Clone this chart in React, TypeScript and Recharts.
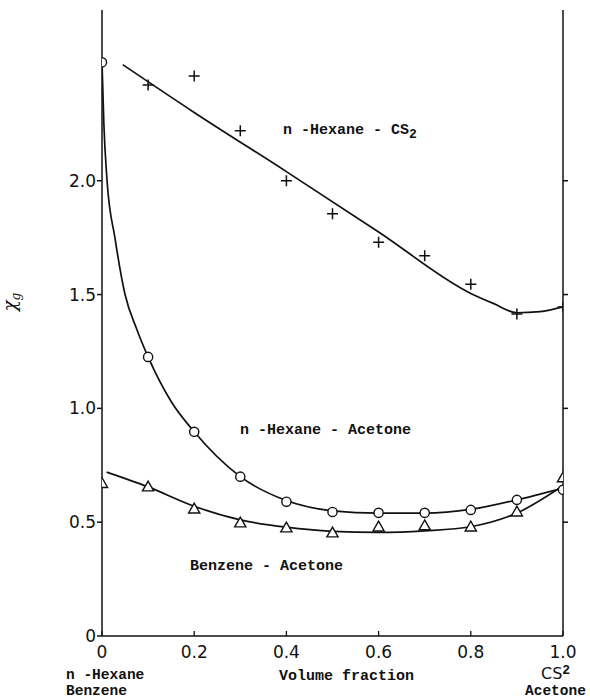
import { ComposedChart, Line, Scatter, XAxis, YAxis } from 'recharts';

// measured points (volume fraction vs chi_g)
const HEX_CS2_X = [0.1, 0.2, 0.3, 0.4, 0.5, 0.6, 0.7, 0.8, 0.9, 1.0];
const HEX_CS2_Y = [2.42, 2.46, 2.22, 2.0, 1.855, 1.73, 1.67, 1.545, 1.415, 1.445];

const ACETONE_X = [0, 0.1, 0.2, 0.3, 0.4, 0.5, 0.6, 0.7, 0.8, 0.9, 1.0];
const HEX_ACE_Y = [2.52, 1.226, 0.897, 0.7, 0.59, 0.545, 0.541, 0.541, 0.554, 0.598, 0.642];
const BEN_ACE_Y = [0.67, 0.655, 0.558, 0.497, 0.475, 0.453, 0.479, 0.484, 0.479, 0.545, 0.695];

// hand-drawn curves
const CS2_FIT_X = [0.045, 0.2, 0.4, 0.6, 0.8, 0.85, 0.9, 0.95, 1.0];
const CS2_FIT_Y = [2.51, 2.3, 2.04, 1.775, 1.505, 1.46, 1.42, 1.425, 1.446];
const HEX_ACE_FIT_X = [0, 0.004, 0.011, 0.028, 0.05, 0.075, 0.1, 0.15, 0.2, 0.3, 0.4, 0.5, 0.6, 0.7, 0.8, 0.9, 1.0];
const HEX_ACE_FIT_Y = [2.52, 2.25, 2.0, 1.75, 1.5, 1.35, 1.226, 1.03, 0.897, 0.7, 0.595, 0.55, 0.54, 0.54, 0.556, 0.598, 0.65];
const BEN_ACE_FIT_X = [0.01, 0.1, 0.2, 0.3, 0.4, 0.5, 0.6, 0.7, 0.8, 0.9, 1.0];
const BEN_ACE_FIT_Y = [0.72, 0.655, 0.57, 0.51, 0.478, 0.46, 0.455, 0.462, 0.48, 0.54, 0.66];

const X_TICKS = [0, 0.2, 0.4, 0.6, 0.8, 1.0];
const Y_TICKS = [0, 0.5, 1.0, 1.5, 2.0];
const RIGHT_TICKS = [0.5, 1.0, 1.5, 2.0];

const zip = (xs: number[], ys: number[]) => xs.map((x, i) => ({ x, y: ys[i] }));

const INK = '#111';
const NUM_FONT = '"DejaVu Sans", sans-serif';
const TYPE_FONT = '"Liberation Mono", monospace';

const Plus = ({ cx, cy }: any) => (
  <path d={`M${cx - 5.5},${cy}H${cx + 5.5}M${cx},${cy - 5.5}V${cy + 5.5}`} stroke={INK} strokeWidth={1.5} />
);
const Circle = ({ cx, cy }: any) => (
  <circle cx={cx} cy={cy} r={4.6} fill="#fff" stroke={INK} strokeWidth={1.4} />
);
const Triangle = ({ cx, cy }: any) => (
  <path
    d={`M${cx},${cy - 5.8}L${cx - 5.6},${cy + 4}L${cx + 5.6},${cy + 4}Z`}
    fill="#fff"
    stroke={INK}
    strokeWidth={1.4}
  />
);

const XTick = ({ x, y, payload }: any) => {
  const v = payload.value;
  const label = v === 0 ? '0' : v.toFixed(1);
  return (
    <g>
      <line x1={x} x2={x} y1={636} y2={631} stroke={INK} strokeWidth={1.3} />
      <text x={x} y={y + 22} textAnchor="middle" fontFamily={NUM_FONT} fontSize={17} fill={INK}>
        {label}
      </text>
      {v === 0 && (
        <text fontFamily={TYPE_FONT} fontWeight="bold" fontSize={14.5} fill={INK}>
          <tspan x={x - 36} y={y + 43}>n -Hexane</tspan>
          <tspan x={x - 36} y={y + 59}>Benzene</tspan>
        </text>
      )}
      {v === 1 && (
        <g>
          <text x={x - 22} y={y + 43} fontFamily={NUM_FONT} fontSize={16} fill={INK}>
            CS
            <tspan dy={-5} fontFamily={TYPE_FONT} fontWeight="bold" fontSize={13}>2</tspan>
          </text>
          <text x={x - 38} y={y + 59} fontFamily={TYPE_FONT} fontWeight="bold" fontSize={14.5} fill={INK}>
            Acetone
          </text>
        </g>
      )}
    </g>
  );
};

export default function App() {
  return (
    <div style={{ position: 'absolute', left: 0, top: 0, width: 590, height: 700, background: '#fff' }}>
      <ComposedChart width={590} height={700} margin={{ top: 10, right: 17, bottom: 34, left: 42 }}>
        <XAxis
          dataKey="x"
          type="number"
          domain={[0, 1]}
          allowDataOverflow
          ticks={X_TICKS}
          tickLine={false}
          tickSize={0}
          tickMargin={0}
          height={30}
          stroke={INK}
          strokeWidth={1.5}
          tick={<XTick />}
          label={{
            value: 'Volume fraction',
            position: 'bottom',
            content: ({ viewBox }: any) => (
              <text
                x={viewBox.x + viewBox.width / 2 + 14}
                y={680}
                textAnchor="middle"
                fontFamily={TYPE_FONT}
                fontWeight="bold"
                fontSize={15}
                fill={INK}
              >
                Volume fraction
              </text>
            ),
          }}
        />
        <YAxis
          dataKey="y"
          type="number"
          domain={[0, 2.75]}
          allowDataOverflow
          ticks={Y_TICKS}
          tickSize={5}
          tickMargin={1}
          width={60}
          stroke={INK}
          strokeWidth={1.5}
          tick={{ fill: INK, fontSize: 17, fontFamily: NUM_FONT }}
          tickFormatter={(v: number) => (v === 0 ? '0' : v.toFixed(1))}
          label={{
            value: 'χg',
            content: ({ viewBox }: any) => {
              const cx = viewBox.x - 26;
              const cy = 302;
              return (
                <text
                  x={cx}
                  y={cy}
                  transform={`rotate(-90 ${cx} ${cy})`}
                  textAnchor="middle"
                  fontFamily='"DejaVu Serif", serif'
                  fontStyle="italic"
                  fontSize={18}
                  fill={INK}
                >
                  χ<tspan dy={4} fontSize={12}>g</tspan>
                </text>
              );
            },
          }}
        />
        <YAxis
          yAxisId="right"
          orientation="right"
          type="number"
          domain={[0, 2.75]}
          allowDataOverflow
          ticks={RIGHT_TICKS}
          tickSize={5}
          width={10}
          stroke={INK}
          strokeWidth={1.5}
          tickFormatter={() => ''}
        />

        <Line data={zip(CS2_FIT_X, CS2_FIT_Y)} dataKey="y" type="monotone" stroke={INK} strokeWidth={1.7} dot={false} isAnimationActive={false} />
        <Line data={zip(HEX_ACE_FIT_X, HEX_ACE_FIT_Y)} dataKey="y" type="monotone" stroke={INK} strokeWidth={1.7} dot={false} isAnimationActive={false} />
        <Line data={zip(BEN_ACE_FIT_X, BEN_ACE_FIT_Y)} dataKey="y" type="monotone" stroke={INK} strokeWidth={1.7} dot={false} isAnimationActive={false} />

        <Scatter data={zip(HEX_CS2_X, HEX_CS2_Y)} shape={<Plus />} isAnimationActive={false} />
        <Scatter data={zip(ACETONE_X, HEX_ACE_Y)} shape={<Circle />} isAnimationActive={false} />
        <Scatter data={zip(ACETONE_X, BEN_ACE_Y)} shape={<Triangle />} isAnimationActive={false} />
      </ComposedChart>

      <svg width={590} height={700} style={{ position: 'absolute', left: 0, top: 0, pointerEvents: 'none' }}>
        <g fontFamily={TYPE_FONT} fontWeight="bold" fontSize={15} fill={INK}>
          <text x={283} y={134}>
            n -Hexane - CS<tspan dy={4} fontSize={13}>2</tspan>
          </text>
          <text x={240} y={434}>n -Hexane - Acetone</text>
          <text x={190} y={570}>Benzene - Acetone</text>
        </g>
      </svg>
    </div>
  );
}
